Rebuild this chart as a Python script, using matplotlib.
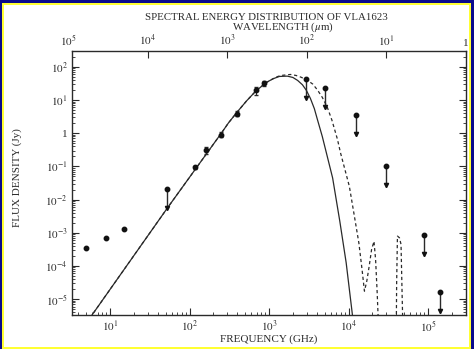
import numpy as np
import matplotlib

matplotlib.use('Agg')
import matplotlib.pyplot as plt
from matplotlib.patches import Rectangle
from matplotlib.ticker import FixedLocator, LogLocator, NullFormatter
from matplotlib.transforms import blended_transform_factory

# detections (GHz, Jy) with error sizes
det_freq = [5.0, 9.0, 15.0, 117, 162, 250, 390, 680, 870]
det_flux = [3.6e-4, 6.8e-4, 1.3e-3, 0.095, 0.31, 0.91, 3.9, 19.5, 31.6]
det_err = [0, 0, 0, 0.01, 0.08, 0.15, 0.7, 5.0, 6.0]

# upper limits (GHz, Jy)
ul_freq = [52, 2950, 5000, 12500, 30000, 88000, 140000]
ul_flux = [0.021, 44, 23, 3.5, 0.10, 8.3e-4, 1.65e-5]

# model curves, log10(GHz), log10(Jy)
thin_lognu = [0.75, 1.72, 2.40, 2.49, 2.60, 2.72, 2.83, 2.96, 3.05, 3.13, 3.23,
              3.30, 3.36, 3.42, 3.47, 3.52, 3.57, 3.61, 3.67, 3.72, 3.80, 3.89,
              3.97, 4.05, 4.08]
thin_logS = [-5.56, -2.26, 0.0, 0.31, 0.64, 0.98, 1.26, 1.52, 1.64, 1.71, 1.72,
             1.68, 1.59, 1.46, 1.29, 1.05, 0.74, 0.40, -0.10, -0.58, -1.35, -2.65,
             -3.9, -5.5, -6.0]

thick_lognu = [0.75, 1.72, 2.40, 2.49, 2.60, 2.72, 2.83, 2.96, 3.05, 3.10, 3.15,
               3.27, 3.34, 3.40, 3.48, 3.55, 3.61, 3.67, 3.73, 3.79, 3.86, 3.90,
               4.01, 4.07, 4.13, 4.17, 4.20, 4.23, 4.26, 4.29, 4.32, 4.34, 4.36,
               4.38, 4.60, 4.605, 4.615, 4.64, 4.66, 4.675, 4.685]
thick_logS = [-5.56, -2.26, 0.0, 0.31, 0.64, 0.98, 1.26, 1.52, 1.64, 1.70, 1.74,
              1.77, 1.74, 1.69, 1.60, 1.48, 1.30, 1.08, 0.80, 0.40, -0.18, -0.6,
              -1.6, -2.45, -3.31, -4.11, -4.76, -4.45, -4.0, -3.5, -3.26, -3.8, -4.8,
              -6.0, -6.0, -4.5, -3.1, -3.15, -3.35, -5.0, -6.0]

xticks = [1e1, 1e2, 1e3, 1e4, 1e5]
xlabels = ['$10^{1}$', '$10^{2}$', '$10^{3}$', '$10^{4}$', '$10^{5}$']
yticks = [1e-5, 1e-4, 1e-3, 1e-2, 1e-1, 1, 10, 100]
ylabels = ['$10^{-5}$', '$10^{-4}$', '$10^{-3}$', '$10^{-2}$', '$10^{-1}$', '1',
           '$10^{1}$', '$10^{2}$']
wticks = [1e4, 1e3, 1e2, 1e1, 1]
wlabels = ['$10^{4}$', '$10^{3}$', '$10^{2}$', '$10^{1}$', '1']

plt.rcParams['font.family'] = 'Liberation Serif'
plt.rcParams['mathtext.fontset'] = 'stix'
ink = '#2a2a2a'

fig = plt.figure(figsize=(4.74, 3.49), dpi=100)
fig.patch.set_facecolor('white')

# navy / yellow frame of the slide
W, H = 474.0, 349.0
fig.add_artist(Rectangle((0, 0), 1, 1, transform=fig.transFigure,
                         facecolor='#0a0a8c', edgecolor='none', zorder=-3))
fig.add_artist(Rectangle((2 / W, 0), 1 - 5 / W, 1 - 3 / H, transform=fig.transFigure,
                         facecolor='#ffff33', edgecolor='none', zorder=-2))
fig.add_artist(Rectangle((4 / W, 2 / H), 1 - 9 / W, 1 - 7 / H, transform=fig.transFigure,
                         facecolor='white', edgecolor='none', zorder=-1))

ax = fig.add_axes([71.7 / W, 1 - 314.7 / H, (466 - 71.7) / W, (314.7 - 51) / H])
ax.set_facecolor('none')
ax.set_xscale('log')
ax.set_yscale('log')
xlim = (3.3, 3.0e5)
ax.set_xlim(*xlim)
ax.set_ylim(3.4e-6, 300)

ax.plot(10 ** np.array(thin_lognu), 10 ** np.array(thin_logS), color=ink, lw=0.9)
ax.plot(10 ** np.array(thick_lognu), 10 ** np.array(thick_logS), color=ink, lw=0.9,
        dashes=(2.6, 2.2))

ax.errorbar(det_freq, det_flux, yerr=det_err, fmt='o', ms=3.2, color='#111111',
            ecolor=ink, elinewidth=0.8, capsize=1.5)

ul_low = np.array(ul_flux) * 10 ** -0.62
ax.vlines(ul_freq, ul_low, ul_flux, color=ink, lw=1.0)
ax.plot(ul_freq, ul_flux, 'o', ms=3.2, color='#111111')
ax.plot(ul_freq, ul_low * 1.12, 'v', ms=3.0, color='#111111')

for s in ax.spines.values():
    s.set_color(ink)
    s.set_linewidth(1.0)

ax.xaxis.set_major_locator(FixedLocator(xticks))
ax.set_xticklabels(xlabels)
ax.xaxis.set_minor_locator(LogLocator(base=10, subs=np.arange(2, 10)))
ax.xaxis.set_minor_formatter(NullFormatter())
ax.yaxis.set_major_locator(FixedLocator(yticks))
ax.set_yticklabels(ylabels)
ax.yaxis.set_minor_locator(LogLocator(base=10, subs=np.arange(2, 10)))
ax.yaxis.set_minor_formatter(NullFormatter())
ax.tick_params(which='both', direction='in', top=False, right=True, colors=ink,
               labelsize=8, pad=3)
ax.tick_params(which='major', length=5, width=0.8)
ax.tick_params(which='minor', length=2.5, width=0.6)

# wavelength axis on top
ax2 = ax.twiny()
ax2.set_xscale('log')
ax2.set_xlim(3e5 / xlim[0], 3e5 / xlim[1])
ax2.xaxis.set_major_locator(FixedLocator(wticks))
ax2.set_xticklabels(wlabels)
ax2.xaxis.set_minor_locator(FixedLocator([]))
ax2.tick_params(which='major', direction='in', length=5, width=0.8, colors=ink,
                labelsize=8, pad=2)
for s in ax2.spines.values():
    s.set_visible(False)
# 10^5 um sits just left of the frame, outside the tick range
edge = blended_transform_factory(ax2.transData, ax2.transAxes)
ax2.text(1e5, 1.0 + 2.8 / 263.7, '$10^{5}$', transform=edge, ha='center', va='bottom',
         fontsize=8, color=ink, clip_on=False)

ax.set_xlabel('FREQUENCY (GHz)', fontsize=8, color=ink, labelpad=0)
ax.set_ylabel('FLUX DENSITY (Jy)', fontsize=8, color=ink)
ax.yaxis.set_label_coords(-0.125, 0.52)
fig.text(266 / W, 1 - 17 / H, 'SPECTRAL ENERGY DISTRIBUTION OF VLA1623',
         ha='center', va='center', fontsize=7.8, color=ink)
fig.text(283 / W, 1 - 27 / H, r'WAVELENGTH ($\mu$m)',
         ha='center', va='center', fontsize=7.8, color=ink)

fig.savefig('out.png', dpi=100)
